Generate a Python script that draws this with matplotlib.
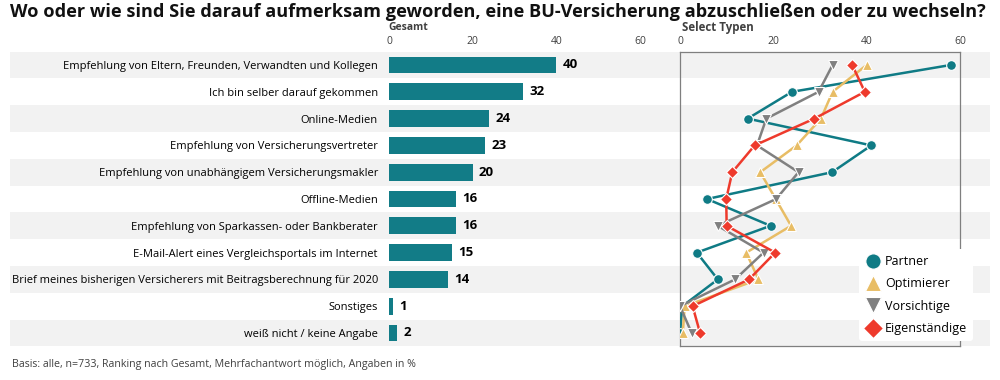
import matplotlib
matplotlib.use("Agg")
import matplotlib.pyplot as plt
from matplotlib.patches import Rectangle
from matplotlib.lines import Line2D
import matplotlib.transforms as mtransforms

plt.rcParams['font.family'] = ['Open Sans', 'DejaVu Sans']

categories = [
    "Empfehlung von Eltern, Freunden, Verwandten und Kollegen",
    "Ich bin selber darauf gekommen",
    "Online-Medien",
    "Empfehlung von Versicherungsvertreter",
    "Empfehlung von unabhängigem Versicherungsmakler",
    "Offline-Medien",
    "Empfehlung von Sparkassen- oder Bankberater",
    "E-Mail-Alert eines Vergleichsportals im Internet",
    "Brief meines bisherigen Versicherers mit Beitragsberechnung für 2020",
    "Sonstiges",
    "weiß nicht / keine Angabe",
]
gesamt = [40, 32, 24, 23, 20, 16, 16, 15, 14, 1, 2]
partner = [58, 24, 14.5, 41, 32.6, 5.8, 19.4, 3.6, 8.1, 0.5, 0]
optimierer = [40, 32.7, 30.2, 25, 17.2, 20.5, 23.8, 14.2, 16.8, 1, 0.6]
vorsichtige = [32.7, 29.7, 18.5, 16.5, 25.4, 20.6, 8.1, 17.9, 11.8, 0, 2.5]
eigenstaendige = [36.9, 39.6, 28.8, 16, 11.2, 9.9, 10, 20.4, 14.8, 2.7, 4.3]

series = [
    ("Partner", partner, "#0f7b85", "o", 7),
    ("Optimierer", optimierer, "#e8bd65", "^", 7),
    ("Vorsichtige", vorsichtige, "#808080", "v", 7),
    ("Eigenständige", eigenstaendige, "#ee3a2c", "D", 6),
]

W, H = 1000, 380
fig = plt.figure(figsize=(10, 3.8), dpi=100)

def fx(px):
    return px / W

def fy(py):
    return 1 - py / H

top_px, bot_px = 51.6, 346.4
n = len(categories)
y = list(range(n))

ax1 = fig.add_axes([fx(389), fy(bot_px), fx(640) - fx(389), fy(top_px) - fy(bot_px)])
ax2 = fig.add_axes([fx(680), fy(bot_px), fx(960) - fx(680), fy(top_px) - fy(bot_px)])
for ax in (ax1, ax2):
    ax.set_facecolor('none')
    ax.set_ylim(n - 0.5, -0.5)
    ax.set_xlim(0, 60)
    ax.xaxis.tick_top()
    ax.set_xticks([0, 20, 40, 60])
    ax.tick_params(axis='x', length=0, pad=3, labelsize=7.5, labelcolor='#404040')

# alternating bands across figure
trans = mtransforms.blended_transform_factory(fig.transFigure, ax1.transData)
for i in range(0, n, 2):
    fig.patches.append(Rectangle((0.01, i - 0.5), 0.98, 1.0, transform=trans,
                                 facecolor='#f2f2f2', edgecolor='none', zorder=-5))

# left bars
ax1.barh(y, gesamt, height=0.62, color='#127c87', edgecolor='none', zorder=2)
for yi, v in zip(y, gesamt):
    ax1.text(v + 1.5, yi, f"{v}", va='center', ha='left', fontsize=9.5,
             fontweight='bold', color='black')
ax1.set_yticks(y)
ax1.set_yticklabels(categories, fontsize=8.0)
ax1.tick_params(axis='y', length=0, pad=8)
for s in ax1.spines.values():
    s.set_visible(False)

# right lines
for name, vals, col, mk, ms in series:
    ax2.plot(vals, y, color=col, lw=1.8, marker=mk, markersize=ms,
             markeredgecolor='white', markeredgewidth=0.8, zorder=3)
ax2.set_yticks([])
for s in ax2.spines.values():
    s.set_color('#7f7f7f')
    s.set_linewidth(0.9)

handles = [Line2D([], [], color=col, marker=mk, linestyle='none', markersize=ms + 4,
                  markeredgecolor='white', markeredgewidth=0.8)
           for name, vals, col, mk, ms in series]
leg = ax2.legend(handles, [s[0] for s in series], loc='upper left',
                 bbox_to_anchor=(fx(853), fy(243)), bbox_transform=fig.transFigure,
                 frameon=True, fontsize=9, handletextpad=0.3, labelspacing=0.75,
                 borderpad=0.45, handlelength=1.3, fancybox=True)
leg.get_frame().set_edgecolor('none')
leg.get_frame().set_facecolor('white')
leg.get_frame().set_alpha(1)
leg.set_zorder(10)

fig.text(fx(10), fy(12), "Wo oder wie sind Sie darauf aufmerksam geworden, eine BU-Versicherung abzuschließen oder zu wechseln?",
         fontsize=13.1, fontweight='bold', ha='left', va='center', color='#111111')
fig.text(fx(388), fy(27), "Gesamt", fontsize=7.5, fontweight='bold', ha='left', va='center', color='#404040')
fig.text(fx(682), fy(27), "Select Typen", fontsize=8.3, fontweight='bold', ha='left', va='center', color='#404040')
fig.text(fx(12), fy(365), "Basis: alle, n=733, Ranking nach Gesamt, Mehrfachantwort möglich, Angaben in %",
         fontsize=7.7, ha='left', va='center', color='#404040')

fig.savefig("out.png", dpi=100)
